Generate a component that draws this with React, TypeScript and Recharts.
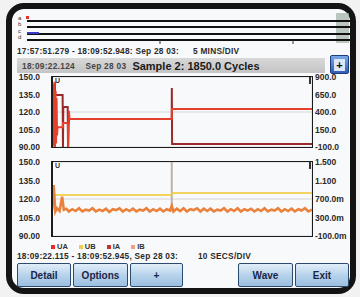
import React from 'react';
import { LineChart, Line, XAxis, YAxis, CartesianGrid, ReferenceLine } from 'recharts';

// ---- axes ----
const timeDomain: [number, number] = [0, 30.83];
const timeGrid = [0, 10, 20, 30];
const cursorTime = 14.2;

const voltTicks = [90, 105, 120, 135, 150];
const voltTickLabels = ['90.00', '105.0', '120.0', '135.0', '150.0'];
const ampTicksTop = [-100, 150, 400, 650, 900];
const ampTickLabelsTop = ['-100.0', '150.0', '400.0', '650.0', '900.0'];
const ampTicksBottom = [-0.1, 0.3, 0.7, 1.1, 1.5];
const ampTickLabelsBottom = ['-100.0m', '300.0m', '700.0m', '1.100', '1.500'];

// ---- series (time in s from 18:09:22.115) ----
const uaTimes = [0, 0.06, 0.12, 0.18, 0.24, 0.3, 0.36, 0.42, 0.48, 0.54, 0.6, 0.66, 0.72, 1.28, 1.3, 1.88, 1.92, 2.0, 2.08, 14.2, 14.22, 30.83];
const uaValues = [92, 144, 91, 140, 95, 146, 90, 138, 93, 132, 100, 107, 107, 107, 110.6, 110.6, 90, 121, 114, 114, 122.6, 122.6];

const iaTimes = [0.3, 0.34, 0.38, 1.26, 1.3, 1.34, 1.86, 1.9, 1.95, 2.05, 14.2, 14.21, 14.24, 30.83];
const iaValues = [-100, 830, 643, 643, -100, 471, 471, -100, 200, 300, 300, 743, -57, -57];

const ubTimes = [0, 0.1, 0.2, 0.3, 14.2, 14.22, 30.83];
const ubValues = [123.3, 126, 121, 123.3, 123.3, 124.8, 124.8];

const ibTimes = [0, 0.2, 0.4, 0.6, 0.9, 1.2, 1.4, 1.7, 2.0, 2.4, 2.8, 3.2, 3.6, 4.0, 4.4, 4.8, 5.2, 5.6, 6.0, 6.4, 6.8, 7.2, 7.6, 8.0, 8.4, 8.8, 9.2, 9.6, 10.0, 10.4, 10.8, 11.2, 11.6, 12.0, 12.4, 12.8, 13.2, 13.6, 14.0, 14.2, 14.4, 14.8, 15.2, 15.6, 16.0, 16.4, 16.8, 17.2, 17.6, 18.0, 18.4, 18.8, 19.2, 19.6, 20.0, 20.4, 20.8, 21.2, 21.6, 22.0, 22.4, 22.8, 23.2, 23.6, 24.0, 24.4, 24.8, 25.2, 25.6, 26.0, 26.4, 26.8, 27.2, 27.6, 28.0, 28.4, 28.8, 29.2, 29.6, 30.0, 30.4, 30.83];
const ibValues = [0.46, 1.0, 0.43, 0.5, 0.44, 0.75, 0.47, 0.49, 0.43, 0.48, 0.44, 0.5, 0.43, 0.47, 0.45, 0.5, 0.43, 0.47, 0.44, 0.49, 0.42, 0.48, 0.46, 0.5, 0.43, 0.48, 0.44, 0.49, 0.43, 0.47, 0.45, 0.5, 0.43, 0.48, 0.44, 0.49, 0.43, 0.48, 0.45, 0.55, 0.43, 0.49, 0.44, 0.5, 0.43, 0.48, 0.46, 0.5, 0.43, 0.49, 0.44, 0.49, 0.43, 0.47, 0.45, 0.5, 0.43, 0.48, 0.44, 0.5, 0.43, 0.48, 0.45, 0.49, 0.43, 0.48, 0.44, 0.5, 0.43, 0.47, 0.45, 0.5, 0.43, 0.48, 0.44, 0.49, 0.43, 0.48, 0.45, 0.5, 0.43, 0.47];

const legendNames = ['UA', 'UB', 'IA', 'IB'];
const buttonsLeft = ['Detail', 'Options', '+'];
const buttonsRight = ['Wave', 'Exit'];

const COLORS: Record<string, string> = {
  UA: '#e4402c',
  UB: '#f0c830',
  IA: '#9a2a2a',
  IB: '#e8823c',
};
const LEGEND_COLORS: Record<string, string> = {
  UA: '#e82a2a',
  UB: '#f2cc50',
  IA: '#c83030',
  IB: '#f0a080',
};

function merge(series: Record<string, [number[], number[]]>) {
  const map = new Map<number, any>();
  Object.entries(series).forEach(([key, [ts, vs]]) => {
    ts.forEach((t, i) => {
      if (!map.has(t)) map.set(t, { t });
      map.get(t)[key] = vs[i];
    });
  });
  return Array.from(map.values()).sort((a, b) => a.t - b.t);
}

const topData = merge({ ua: [uaTimes, uaValues], ia: [iaTimes, iaValues] });
const bottomData = merge({ ub: [ubTimes, ubValues], ib: [ibTimes, ibValues] });

const font = 'Liberation Sans, Arial, sans-serif';
const tickStyle = { fontSize: 8.5, fill: '#2a2a2a', fontWeight: 'bold' as const, fontFamily: font };
const smallText = { fontFamily: font, fontSize: 8.3, fontWeight: 'bold' as const, color: '#2a2a2a', whiteSpace: 'pre' as const, lineHeight: '9px', letterSpacing: 0.25 };

function Plot({ data, top, height, mt, mb, ampTicks, ampLabels, ampDomain, children }: any) {
  return (
    <div style={{ position: 'absolute', left: 0, top }}>
      <LineChart width={360} height={height} data={data} margin={{ top: mt, right: 0, bottom: mb, left: 0 }}>
        <CartesianGrid yAxisId="v" stroke="#d6d4dc" strokeWidth={1} />
        <XAxis dataKey="t" type="number" domain={timeDomain} ticks={timeGrid} height={0} tick={false} axisLine={false} tickLine={false} allowDataOverflow />
        <YAxis yAxisId="v" orientation="left" width={52} domain={[90, 150]} ticks={voltTicks} allowDataOverflow
          tickFormatter={(v: number) => voltTickLabels[voltTicks.indexOf(v)]} tick={tickStyle} tickLine={false} tickSize={0} tickMargin={12} axisLine={false} />
        <YAxis yAxisId="a" orientation="right" width={48} domain={ampDomain} ticks={ampTicks} allowDataOverflow
          tickFormatter={(v: number) => ampLabels[ampTicks.indexOf(v)]} tick={{ ...tickStyle, textAnchor: 'start' }} tickLine={false} tickSize={0} tickMargin={3} axisLine={false} />
        {children}
      </LineChart>
    </div>
  );
}

function Box({ top, height }: { top: number; height: number }) {
  return (
    <div style={{ position: 'absolute', left: 51, top: top - 1, width: 262, height: height + 2, borderStyle: 'solid', borderColor: '#1c1c1c', borderWidth: '1.5px 1.5px 1.5px 2px', boxSizing: 'border-box', pointerEvents: 'none' }}>
      <span style={{ position: 'absolute', left: 2, top: 0, fontSize: 7, fontFamily: font, fontWeight: 'bold', color: '#333', lineHeight: '8px' }}>U</span>
      <span style={{ position: 'absolute', right: 1, top: 0, width: 2, height: 7, background: '#333' }} />
    </div>
  );
}

function Button({ label, left, width }: { label: string; left: number; width: number }) {
  return (
    <div style={{
      position: 'absolute', left, top: 263, width, height: 24, boxSizing: 'border-box',
      border: '1px solid #2c4a70', borderRadius: 2,
      background: 'linear-gradient(#e2eef8, #b4d0ea 55%, #9cc0e0)',
      display: 'flex', alignItems: 'center', justifyContent: 'center',
      fontFamily: font, fontWeight: 'bold', fontSize: 10, color: '#1a2648',
    }}>{label}</div>
  );
}

export default function App() {
  const stripY = [21, 27, 34, 40];
  const stripLabels = ['a', 'b', 'c', 'd'];
  return (
    <div style={{ position: 'absolute', left: 0, top: 0, width: 360, height: 297, background: '#f2f2f2', overflow: 'hidden' }}>
      <div style={{ position: 'absolute', left: 6, top: 3, width: 350, height: 291, border: '6px solid #141414', borderRadius: 18, background: '#f8f9fb', boxSizing: 'border-box' }} />
      <svg style={{ position: 'absolute', left: 0, top: 0 }} width={360} height={50}>
        <rect x={336} y={13} width={13} height={30} fill="#9fb0a4" opacity={0.7} />
        {stripY.map((y, i) => (
          <g key={i}>
            <line x1={27} x2={350} y1={y} y2={y} stroke="#111" strokeWidth={2} />
            <text x={18} y={y - 1} fontSize={6} fontFamily={font} fill="#333">{stripLabels[i]}</text>
          </g>
        ))}
        <rect x={26} y={16} width={3} height={3} fill="#e03030" />
        <line x1={27} x2={39} y1={33} y2={33} stroke="#3a3ac8" strokeWidth={2} />
        <line x1={160} x2={160} y1={40} y2={44} stroke="#333" strokeWidth={1} />
        <line x1={293} x2={293} y1={40} y2={44} stroke="#333" strokeWidth={1} />
      </svg>
      <div style={{ position: 'absolute', left: 17, top: 47, ...smallText }}>
        {'17:57:51.279 - 18:09:52.948: Sep 28 03:'}
      </div>
      <div style={{ position: 'absolute', left: 193, top: 47, ...smallText }}>
        5 MINS/DIV
      </div>
      <div style={{ position: 'absolute', left: 17, top: 58, width: 308, height: 15, background: 'linear-gradient(#d8d8d8, #c4c4c4)', display: 'flex', alignItems: 'center', fontFamily: font, color: '#222' }}>
        <span style={{ marginLeft: 5, fontSize: 8.3, fontWeight: 'bold', color: '#444', whiteSpace: 'pre', letterSpacing: 0.3 }}>{'18:09:22.124    Sep 28 03'}</span>
        <span style={{ marginLeft: 6, fontSize: 11, fontWeight: 'bold', color: '#1a1a1a' }}>Sample 2: 1850.0 Cycles</span>
      </div>
      <div style={{ position: 'absolute', left: 330, top: 55, width: 19, height: 19, boxSizing: 'border-box', border: '1.5px solid #1e3c80', borderRadius: 2, background: 'linear-gradient(#7aa8e8, #2e5cb8)', display: 'flex', alignItems: 'center', justifyContent: 'center' }}>
        <div style={{ width: 11, height: 12, background: '#dce8f8', display: 'flex', alignItems: 'center', justifyContent: 'center', fontFamily: font, fontWeight: 'bold', fontSize: 11, color: '#111', lineHeight: '12px' }}>+</div>
      </div>

      <Plot data={topData} top={70} height={85} mt={7} mb={8} ampTicks={ampTicksTop} ampLabels={ampTickLabelsTop} ampDomain={[-100, 900]}>
        <Line yAxisId="a" dataKey="ia" stroke={COLORS.IA} strokeWidth={2} dot={false} connectNulls isAnimationActive={false} />
        <Line yAxisId="v" dataKey="ua" stroke={COLORS.UA} strokeWidth={2} dot={false} connectNulls isAnimationActive={false} />
      </Plot>
      <Box top={77} height={70} />

      <Plot data={bottomData} top={155} height={88} mt={7} mb={7} ampTicks={ampTicksBottom} ampLabels={ampTickLabelsBottom} ampDomain={[-0.1, 1.5]}>
        <ReferenceLine yAxisId="v" segment={[{ x: cursorTime, y: 150 }, { x: cursorTime, y: 110 }]} stroke="#c0b0a4" strokeWidth={2} />
        <Line yAxisId="v" dataKey="ub" stroke={COLORS.UB} strokeWidth={1.5} dot={false} connectNulls isAnimationActive={false} />
        <Line yAxisId="a" dataKey="ib" stroke={COLORS.IB} strokeWidth={2.6} dot={false} connectNulls isAnimationActive={false} />
      </Plot>
      <Box top={162} height={74} />

      <div style={{ position: 'absolute', left: 51, top: 243, display: 'flex', gap: 11, fontFamily: font, fontSize: 7.5, fontWeight: 'bold', color: '#333', lineHeight: '8px' }}>
        {legendNames.map((n) => (
          <span key={n} style={{ display: 'flex', alignItems: 'center' }}>
            <span style={{ width: 4, height: 4, background: LEGEND_COLORS[n], marginRight: 2 }} />{n}
          </span>
        ))}
      </div>
      <div style={{ position: 'absolute', left: 17, top: 252, ...smallText }}>
        {'18:09:22.115 - 18:09:52.945, Sep 28 03:'}
      </div>
      <div style={{ position: 'absolute', left: 198, top: 252, ...smallText }}>
        10 SECS/DIV
      </div>

      {buttonsLeft.map((b, i) => (
        <Button key={b} label={b} left={[17, 73, 130][i]} width={[54, 55, 53][i]} />
      ))}
      {buttonsRight.map((b, i) => (
        <Button key={b} label={b} left={[238, 295][i]} width={[55, 54][i]} />
      ))}
    </div>
  );
}
